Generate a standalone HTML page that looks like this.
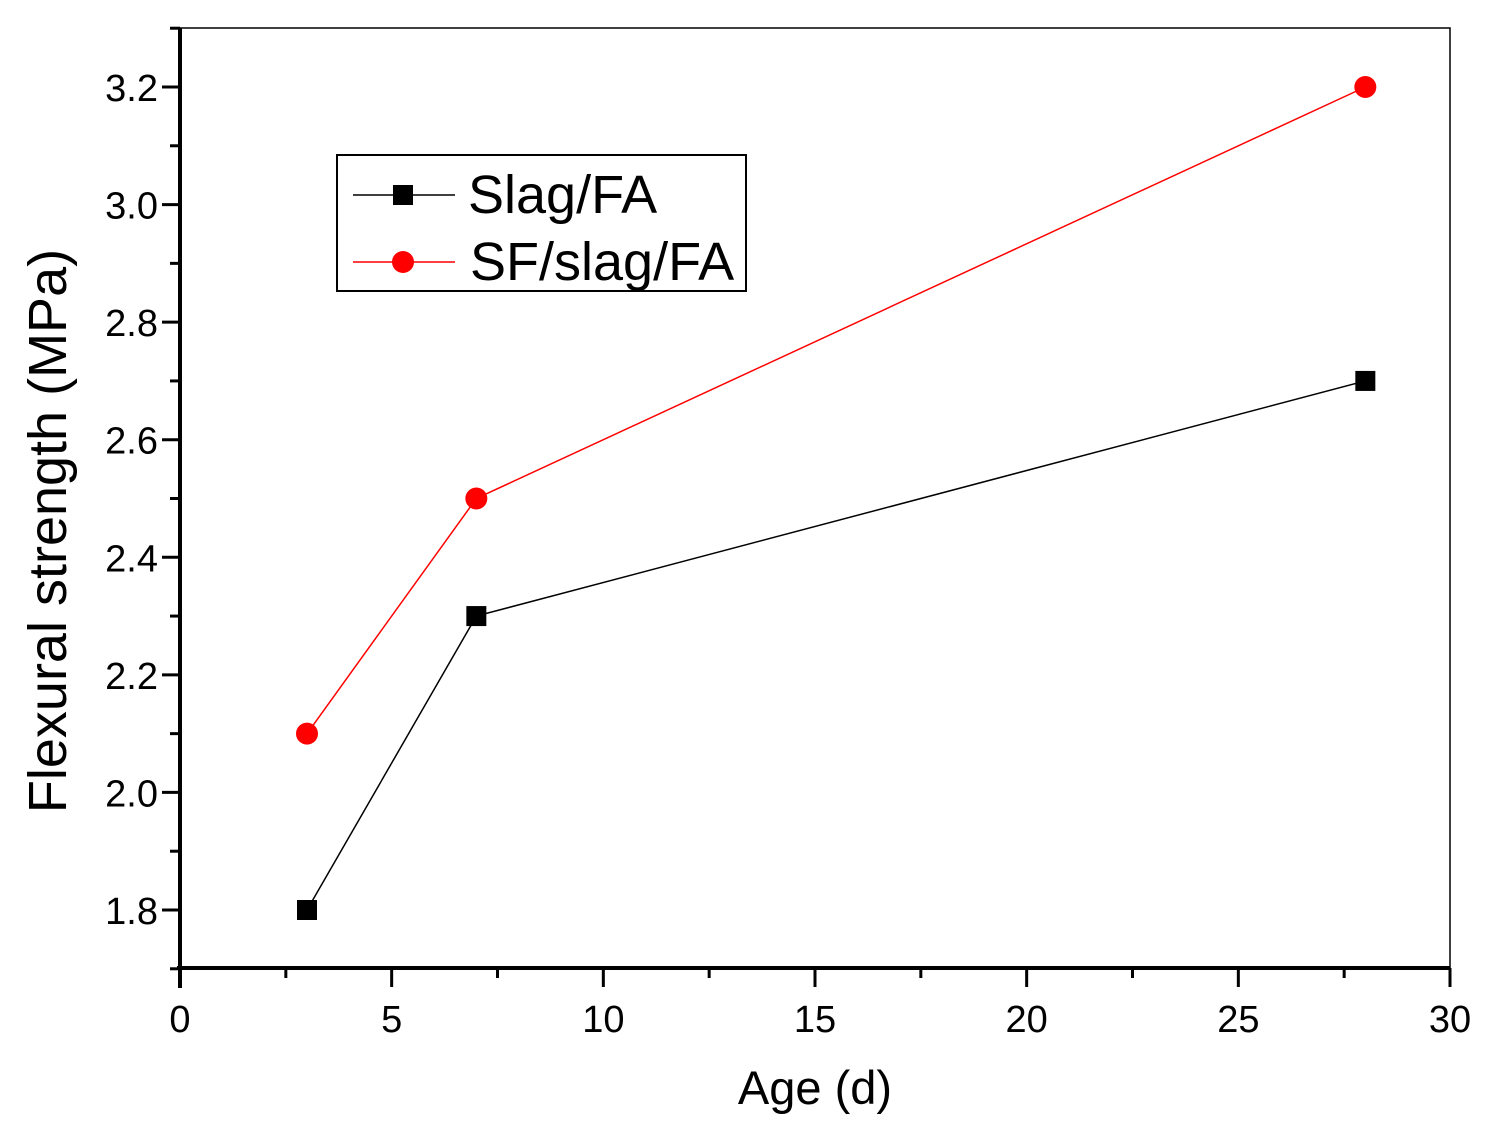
<!DOCTYPE html>
<html><head><meta charset="utf-8"><style>
body{margin:0;background:#fff}
svg text{font-family:"Liberation Sans",Arial,sans-serif;fill:#000}
</style></head><body>
<svg id="chart" width="1498" height="1142" viewBox="0 0 1498 1142" xmlns="http://www.w3.org/2000/svg">
<rect x="0" y="0" width="1498" height="1142" fill="#fff"/>
<g id="axes"></g>
<g id="series"></g>
<g>
<rect x="337" y="155" width="409" height="136" fill="#fff" stroke="#000" stroke-width="2"/>
<g>
<line x1="353" y1="195" x2="455" y2="195" stroke="#000" stroke-width="1.5"/>
<rect x="393" y="185" width="20" height="20" fill="#000"/>
<text x="468" y="213" font-size="54">Slag/FA</text></g>
<g>
<line x1="353" y1="262" x2="455" y2="262" stroke="#f00" stroke-width="1.5"/>
<circle cx="403" cy="262" r="11" fill="#f00"/>
<text x="470" y="280" font-size="54">SF/slag/FA</text></g>
</g>
<text x="815" y="1104" font-size="47" text-anchor="middle">Age (d)</text>
<text transform="translate(66,531) rotate(-90)" font-size="54" text-anchor="middle">Flexural strength (MPa)</text>
</svg>
<script>
const ages=[3,7,28];
const slagFA=[1.8,2.3,2.7];
const sfSlagFA=[2.1,2.5,3.2];
const xTicks=[0,5,10,15,20,25,30];
const yTicks=[1.8,2.0,2.2,2.4,2.6,2.8,3.0,3.2];
const NS='http://www.w3.org/2000/svg';
const L=180,R=1450,T=28,B=968;
const xs=v=>L+(v-0)/30*(R-L);
const ys=v=>910-(v-1.8)/1.4*(910-87);
function mk(tag,at,parent){const e=document.createElementNS(NS,tag);for(const k in at)e.setAttribute(k,at[k]);parent.appendChild(e);return e;}
const ax=document.getElementById('axes');
const fr=mk('rect',{x:L,y:T,width:R-L,height:B-T,fill:'none',stroke:'#000','stroke-width':1.5},ax);


const yl=mk('line',{x1:L,y1:T,x2:L,y2:B+20,stroke:'#000','stroke-width':4},ax);


const xl=mk('line',{x1:L-3,y1:B,x2:R,y2:B,stroke:'#000','stroke-width':4},ax);


xTicks.forEach(v=>{
 mk('line',{x1:xs(v),y1:B,x2:xs(v),y2:B+19,stroke:'#000','stroke-width':3},ax);
 const t=mk('text',{x:xs(v),y:B+64,'font-size':38,'text-anchor':'middle'},ax);t.textContent=v;
 
 
 if(v<30)mk('line',{x1:xs(v+2.5),y1:B,x2:xs(v+2.5),y2:B+10,stroke:'#000','stroke-width':3},ax);
});
yTicks.forEach(v=>{
 mk('line',{x1:L-18,y1:ys(v),x2:L,y2:ys(v),stroke:'#000','stroke-width':3},ax);
 const t=mk('text',{x:L-22,y:ys(v)+14,'font-size':38,'text-anchor':'end'},ax);t.textContent=v.toFixed(1);
 
 
});
[1.7,1.9,2.1,2.3,2.5,2.7,2.9,3.1,3.3].forEach(v=>mk('line',{x1:L-10,y1:ys(v),x2:L,y2:ys(v),stroke:'#000','stroke-width':3},ax));
const sg=document.getElementById('series');
function series(vals,color,name,sq){
 const g=mk('g',{},sg);
 
 
 mk('polyline',{points:ages.map((a,i)=>xs(a)+','+ys(vals[i])).join(' '),fill:'none',stroke:color,'stroke-width':1.5},g);
 ages.forEach((a,i)=>{
  const m=sq?mk('rect',{x:xs(a)-10,y:ys(vals[i])-10,width:20,height:20,fill:color},g):mk('circle',{cx:xs(a),cy:ys(vals[i]),r:11,fill:color},g);
  
  
 });
}
series(slagFA,'#000','series-slag-fa',true);
series(sfSlagFA,'#f00','series-sf-slag-fa',false);
</script>
</body></html>
